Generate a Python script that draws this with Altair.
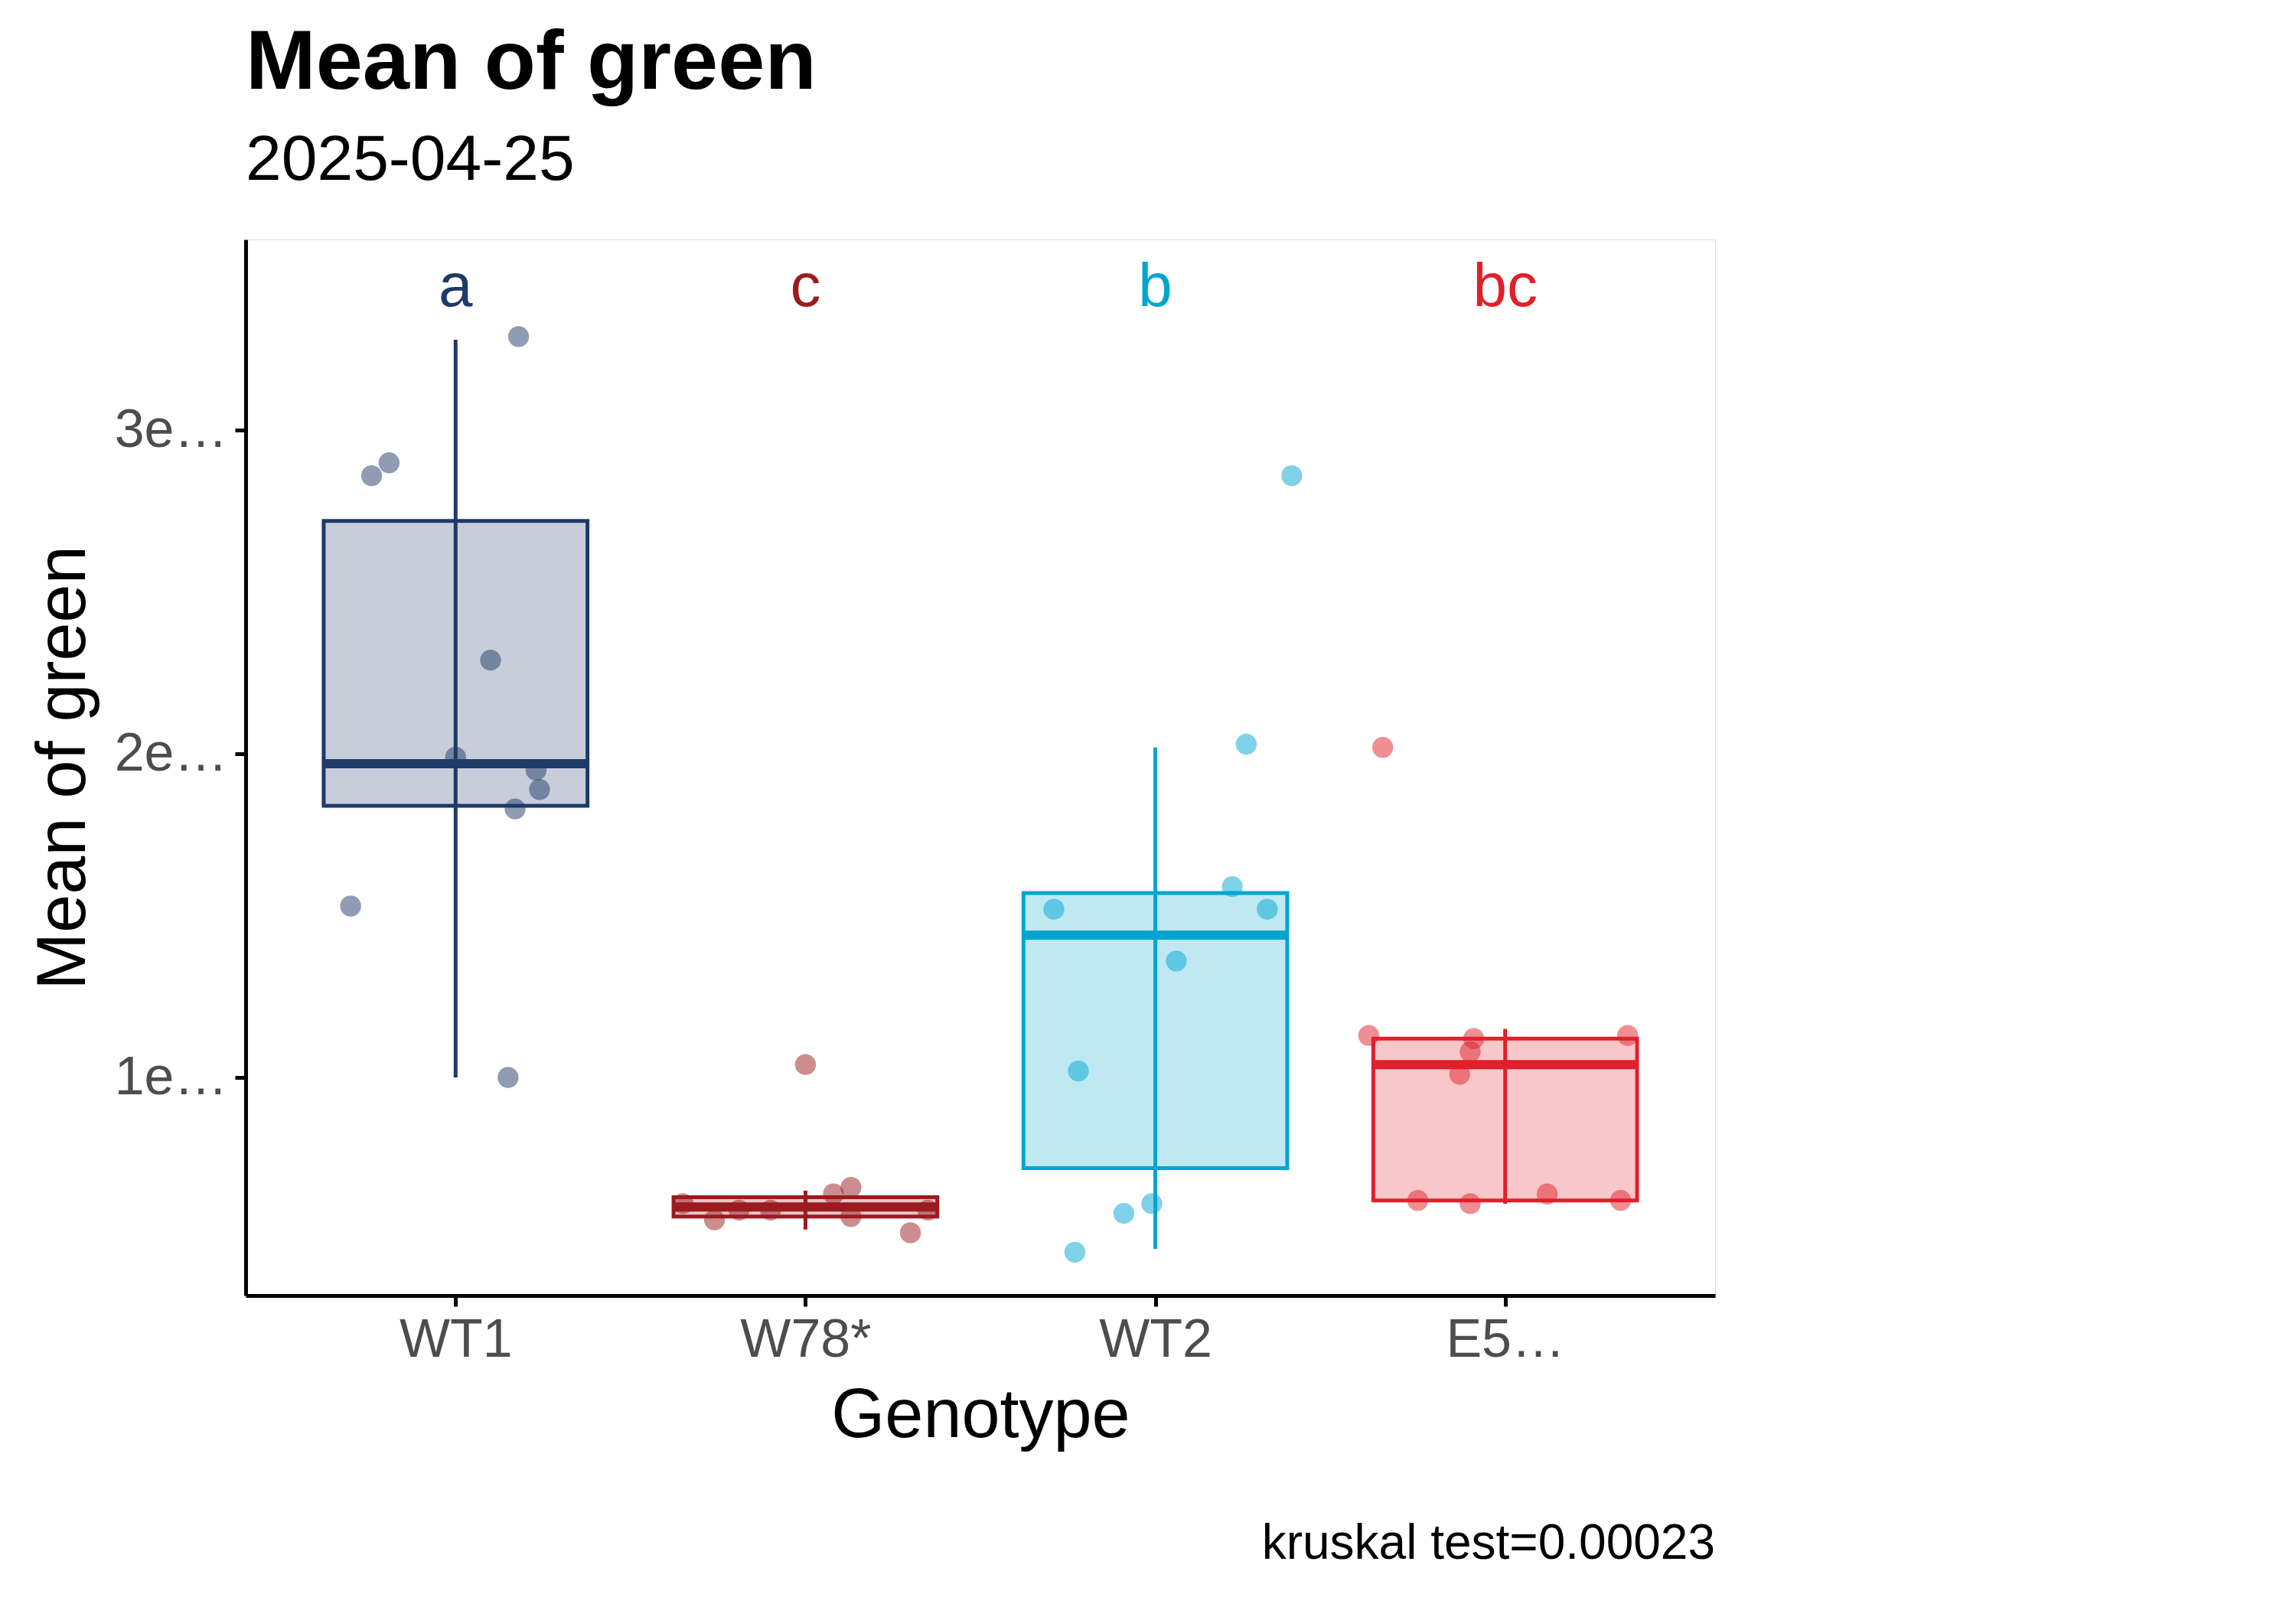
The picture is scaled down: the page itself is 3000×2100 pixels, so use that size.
import altair as alt
import pandas as pd

genotypes = ["WT1", "W78*", "WT2", "E568K"]
colors = ["#1F3A68", "#9B1B1F", "#00A5CF", "#E0202A"]
letters = ["a", "c", "b", "bc"]

# points (x = jittered position, 1..4), values in units of 1e16
pt_geno = ["WT1"] * 10 + ["W78*"] * 10 + ["WT2"] * 10 + ["E568K"] * 10
pt_x = [1.18, 0.81, 0.76, 1.10, 1.00, 1.23, 1.24, 1.17, 0.70, 1.15,
        2.00, 2.13, 2.08, 1.90, 1.81, 1.74, 2.13, 2.30, 2.35, 1.65,
        3.39, 3.26, 3.22, 3.32, 2.71, 3.06, 2.78, 2.99, 2.91, 2.77,
        3.65, 4.35, 3.61, 3.91, 3.90, 3.87, 4.12, 3.75, 3.90, 4.33]
pt_y = [3.29, 2.90, 2.86, 2.29, 1.99, 1.95, 1.89, 1.83, 1.53, 1.00,
        1.04, 0.66, 0.64, 0.59, 0.59, 0.56, 0.57, 0.52, 0.59, 0.61,
        2.86, 2.03, 1.59, 1.52, 1.52, 1.36, 1.02, 0.61, 0.58, 0.46,
        2.02, 1.13, 1.13, 1.12, 1.08, 1.01, 0.64, 0.62, 0.61, 0.62]

# box statistics (units of 1e16)
box_lo = [1.00, 0.53, 0.47, 0.61]
box_q1 = [1.84, 0.57, 0.72, 0.62]
box_med = [1.97, 0.60, 1.44, 1.04]
box_q3 = [2.72, 0.63, 1.57, 1.12]
box_hi = [3.28, 0.65, 2.02, 1.15]

pts = pd.DataFrame({"Genotype": pt_geno, "x": pt_x, "v": [v * 1e16 for v in pt_y]})
pos = [1, 2, 3, 4]
box = pd.DataFrame({
    "Genotype": genotypes, "x": pos,
    "xl": [p - 0.377 for p in pos], "xr": [p + 0.377 for p in pos],
    "lo": [v * 1e16 for v in box_lo], "q1": [v * 1e16 for v in box_q1],
    "med": [v * 1e16 for v in box_med], "q3": [v * 1e16 for v in box_q3],
    "hi": [v * 1e16 for v in box_hi],
    "letter": letters, "ly": [3.44e16] * 4,
})

W, H = 1920, 1380
xs = alt.Scale(domain=[0.4, 4.6], nice=False, zero=False)
ys = alt.Scale(domain=[0.326e16, 3.59e16], nice=False, zero=False)
cscale = alt.Scale(domain=genotypes, range=colors)
col = alt.Color("Genotype:N", scale=cscale,
                legend=alt.Legend(title="Genotype", symbolType="square", symbolSize=3000,
                                  symbolStrokeWidth=5,
                                  labelFontSize=74, titleFontSize=80, titleFontWeight="normal",
                                  rowPadding=50, titlePadding=50, labelOffset=40, offset=120))
nocol = alt.Color("Genotype:N", scale=cscale, legend=None)

xax = alt.X("x:Q", scale=xs, title="Genotype",
            axis=alt.Axis(values=pos, grid=False,
                          labelExpr="['','WT1','W78*','WT2','E568K'][datum.value]"))
yax = alt.Y("v:Q", scale=ys, title="Mean of green",
            axis=alt.Axis(values=[1e16, 2e16, 3e16], grid=False,
                          labelExpr="format(datum.value/1e16,'d') + 'e+16'"))

whisk = alt.Chart(box).mark_rule(strokeWidth=5).encode(
    x=alt.X("x:Q", scale=xs), y=alt.Y("lo:Q", scale=ys), y2="hi:Q", color=nocol)
bx = alt.Chart(box).mark_bar(fillOpacity=0.25, strokeWidth=5).encode(
    x=alt.X("xl:Q", scale=xs), x2="xr:Q", y=alt.Y("q1:Q", scale=ys), y2="q3:Q",
    color=col, stroke=alt.Stroke("Genotype:N", scale=cscale, legend=None))
med = alt.Chart(box).mark_rule(strokeWidth=12).encode(
    x=alt.X("xl:Q", scale=xs), x2="xr:Q", y=alt.Y("med:Q", scale=ys), color=nocol)
dots = alt.Chart(pts).mark_circle(size=750, opacity=0.5).encode(
    x=xax, y=yax, color=nocol)
lets = alt.Chart(box).mark_text(fontSize=80, baseline="middle").encode(
    x=alt.X("x:Q", scale=xs), y=alt.Y("ly:Q", scale=ys), text="letter:N", color=nocol)
cap = alt.Chart(pd.DataFrame({"t": ["kruskal test=0.00023"]})).mark_text(
    fontSize=64, align="right", baseline="middle", color="black").encode(
    x=alt.value(W), y=alt.value(1705), text="t:N")

chart = alt.layer(whisk, bx, med, dots, lets, cap).properties(
    width=W, height=H, padding={"left": 30, "top": 20, "right": 30, "bottom": 80},
    title=alt.Title("Mean of green", subtitle="2025-04-25", anchor="start", frame="group",
                    fontSize=110, subtitleFontSize=84, subtitleColor="black",
                    subtitlePadding=30, offset=60, fontWeight="bold"),
).configure_view(stroke=None).configure(font="Arial").configure_axis(
    domainColor="black", domainWidth=5, tickColor="black", tickWidth=5, tickSize=14,
    labelFontSize=70, labelColor="#4D4D4D", titleFontSize=90, titleFontWeight="normal",
    titleColor="black", labelPadding=10, titlePadding=20)

chart.save("out.html", embed_options={"renderer": "svg", "actions": False})
